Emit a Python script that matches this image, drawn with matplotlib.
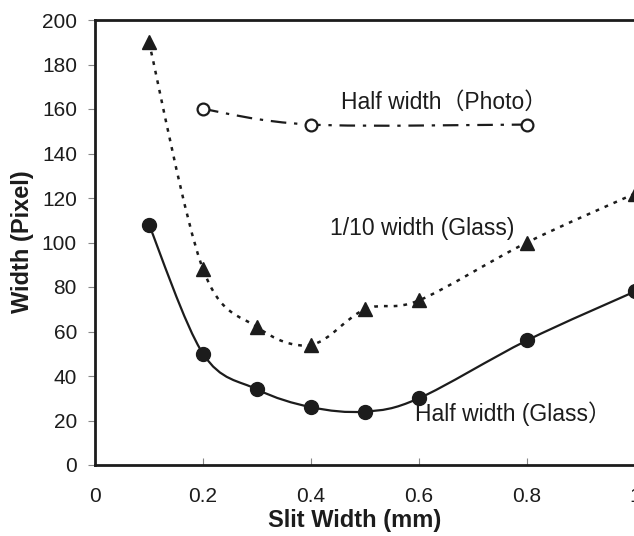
import matplotlib
matplotlib.use('Agg')
import matplotlib.pyplot as plt
import numpy as np
from matplotlib.path import Path
from matplotlib.patches import PathPatch

plt.rcParams['font.family'] = ['Liberation Sans', 'Noto Sans CJK JP']

# data
x_glass = [0.1, 0.2, 0.3, 0.4, 0.5, 0.6, 0.8, 1.0]
half_glass = [108, 50, 34, 26, 24, 30, 56, 78]
tenth_glass = [190, 88, 62, 54, 70, 74, 100, 122]
x_photo = [0.2, 0.4, 0.8]
half_photo = [160, 153, 153]

INK = '#1c1c1c'


def smooth_path(xs, ys):
    # Excel-like smoothed line: cubic bezier through the points
    p = np.column_stack([xs, ys]).astype(float)
    n = len(p)
    verts = [p[0]]
    codes = [Path.MOVETO]
    for i in range(n - 1):
        p0 = p[i - 1] if i > 0 else p[i]
        p3 = p[i + 2] if i + 2 < n else p[i + 1]
        c1 = p[i] + (p[i + 1] - p0) / 6
        c2 = p[i + 1] - (p3 - p[i]) / 6
        verts += [c1, c2, p[i + 1]]
        codes += [Path.CURVE4] * 3
    return Path(verts, codes)


fig = plt.figure(figsize=(6.34, 5.36), dpi=100)
ax = fig.add_axes([95 / 634, 71 / 536, 540 / 634, 445 / 536])

ax.add_patch(PathPatch(smooth_path(x_glass, half_glass), fill=False,
                       ec=INK, lw=1.6, ls='-'))
ax.add_patch(PathPatch(smooth_path(x_glass, tenth_glass), fill=False,
                       ec=INK, lw=1.8, ls=(0, (1.5, 2.4))))
ax.add_patch(PathPatch(smooth_path(x_photo, half_photo), fill=False,
                       ec=INK, lw=1.6, ls=(0, (7, 3.5, 1.5, 3.5))))

ax.plot(x_glass, half_glass, 'o', ms=10, color=INK, ls='none', clip_on=False)
ax.plot(x_glass, tenth_glass, '^', ms=10, color=INK, ls='none', clip_on=False)
ax.plot(x_photo, half_photo, 'o', ms=8.5, mfc='white', mec=INK, mew=1.6,
        ls='none', clip_on=False)

ax.text(0.455, 163, 'Half width（Photo）', fontsize=16.5, color=INK,
        ha='left', va='center')
ax.text(0.435, 106.5, '1/10 width (Glass)', fontsize=16.5, color=INK,
        ha='left', va='center')
ax.text(0.593, 23, 'Half width (Glass）', fontsize=16.5, color=INK,
        ha='left', va='center')

ax.set_xlim(0, 1)
ax.set_ylim(0, 200)
ax.set_xticks([0, 0.2, 0.4, 0.6, 0.8, 1.0])
ax.set_xticklabels(['0', '0.2', '0.4', '0.6', '0.8', '1'])
ax.set_yticks(np.arange(0, 201, 20))
ax.tick_params(axis='y', direction='out', length=5, width=0.8, color='#888',
               labelsize=15, labelcolor=INK, pad=8)
ax.tick_params(axis='x', direction='in', length=5, width=0.8, color='#888',
               labelsize=15, labelcolor=INK, pad=16)
for s in ax.spines.values():
    s.set_linewidth(2)
    s.set_color(INK)

fig.text(22 / 634, 1 - 242 / 536, 'Width (Pixel)', rotation=90,
         fontsize=17, fontweight='bold', color=INK, ha='center', va='center')
fig.text(355 / 634, 1 - 520 / 536, 'Slit Width (mm)', fontsize=17,
         fontweight='bold', color=INK, ha='center', va='center')

fig.savefig('out.png', dpi=100)
